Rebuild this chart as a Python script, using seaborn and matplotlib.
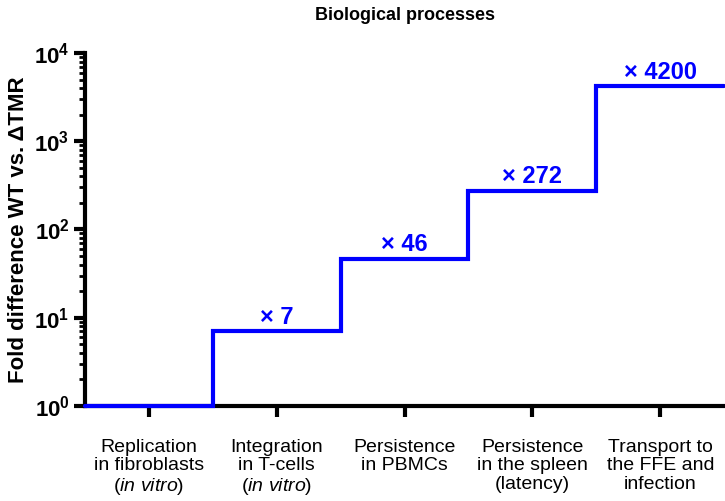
import numpy as np
import pandas as pd
import seaborn as sns
import matplotlib.pyplot as plt
from matplotlib.ticker import LogLocator, FixedLocator, NullFormatter

sns.set_theme(style="ticks")
plt.rcParams.update({
    "font.family": ["Liberation Sans", "DejaVu Sans"],
    "mathtext.fontset": "custom",
    "mathtext.rm": "Liberation Sans",
    "mathtext.it": "Liberation Sans:italic",
    "mathtext.bf": "Liberation Sans:bold",
    "text.color": "black",
    "axes.labelcolor": "black",
    "xtick.color": "black",
    "ytick.color": "black",
})

# data
processes = [
    "Replication\nin fibroblasts\n($\\mathit{in\\ vitro}$)",
    "Integration\nin T-cells\n($\\mathit{in\\ vitro}$)",
    "Persistence\nin PBMCs",
    "Persistence\nin the spleen\n(latency)",
    "Transport to\nthe FFE and\ninfection",
]
fold_diff = [1, 7, 46, 272, 4200]
fold_text = ["", "× 7", "× 46", "× 272", "× 4200"]

df = pd.DataFrame({"pos": np.arange(len(processes)), "fold": fold_diff})

fig = plt.figure(figsize=(7.25, 5.01), dpi=100)
ax = fig.add_axes([0.117, 0.19, 0.882, 0.704])

# step line: each level spans its category (+/- half a slot)
edges = np.concatenate([df["pos"].values - 0.5, [df["pos"].values[-1] + 0.5]])
levels = np.concatenate([df["fold"].values, [df["fold"].values[-1]]])
step_df = pd.DataFrame({"x": edges, "y": levels})
sns.lineplot(data=step_df, x="x", y="y", drawstyle="steps-post", color="#0000ff",
             linewidth=3, ax=ax, solid_joinstyle="miter", clip_on=False, zorder=5)

for x, y, t in zip(df["pos"], df["fold"], fold_text):
    if t:
        ax.annotate(t, (x, y), xytext=(0, 2), textcoords="offset points",
                    ha="center", va="bottom", color="#0000ff",
                    fontsize=17, fontweight="bold")

ax.set_yscale("log")
ax.set_ylim(1, 1e4)
ax.set_xlim(-0.5, 4.5)

ax.yaxis.set_major_locator(FixedLocator([1, 10, 100, 1000, 10000]))
ax.set_yticklabels([r"$\mathbf{10^{%d}}$" % i for i in range(5)], fontsize=16)
ax.yaxis.set_minor_locator(LogLocator(base=10, subs=np.arange(2, 10), numticks=20))
ax.yaxis.set_minor_formatter(NullFormatter())

ax.set_xticks(df["pos"])
ax.set_xticklabels(processes, fontsize=14, linespacing=1.1)

ax.set_xlabel("")
ax.set_ylabel("Fold difference WT vs. ΔTMR", fontsize=16, fontweight="bold", labelpad=4)
ax.set_title("Biological processes", fontsize=13, fontweight="bold", pad=24)

sns.despine(ax=ax)
for s in ["left", "bottom"]:
    ax.spines[s].set_linewidth(3)
    ax.spines[s].set_color("black")
ax.tick_params(axis="both", which="major", length=8, width=3, pad=3)
ax.tick_params(axis="y", which="minor", length=4, width=2)
ax.tick_params(axis="x", which="major", pad=16)
ax.grid(False)

fig.savefig("out.png", dpi=100)
